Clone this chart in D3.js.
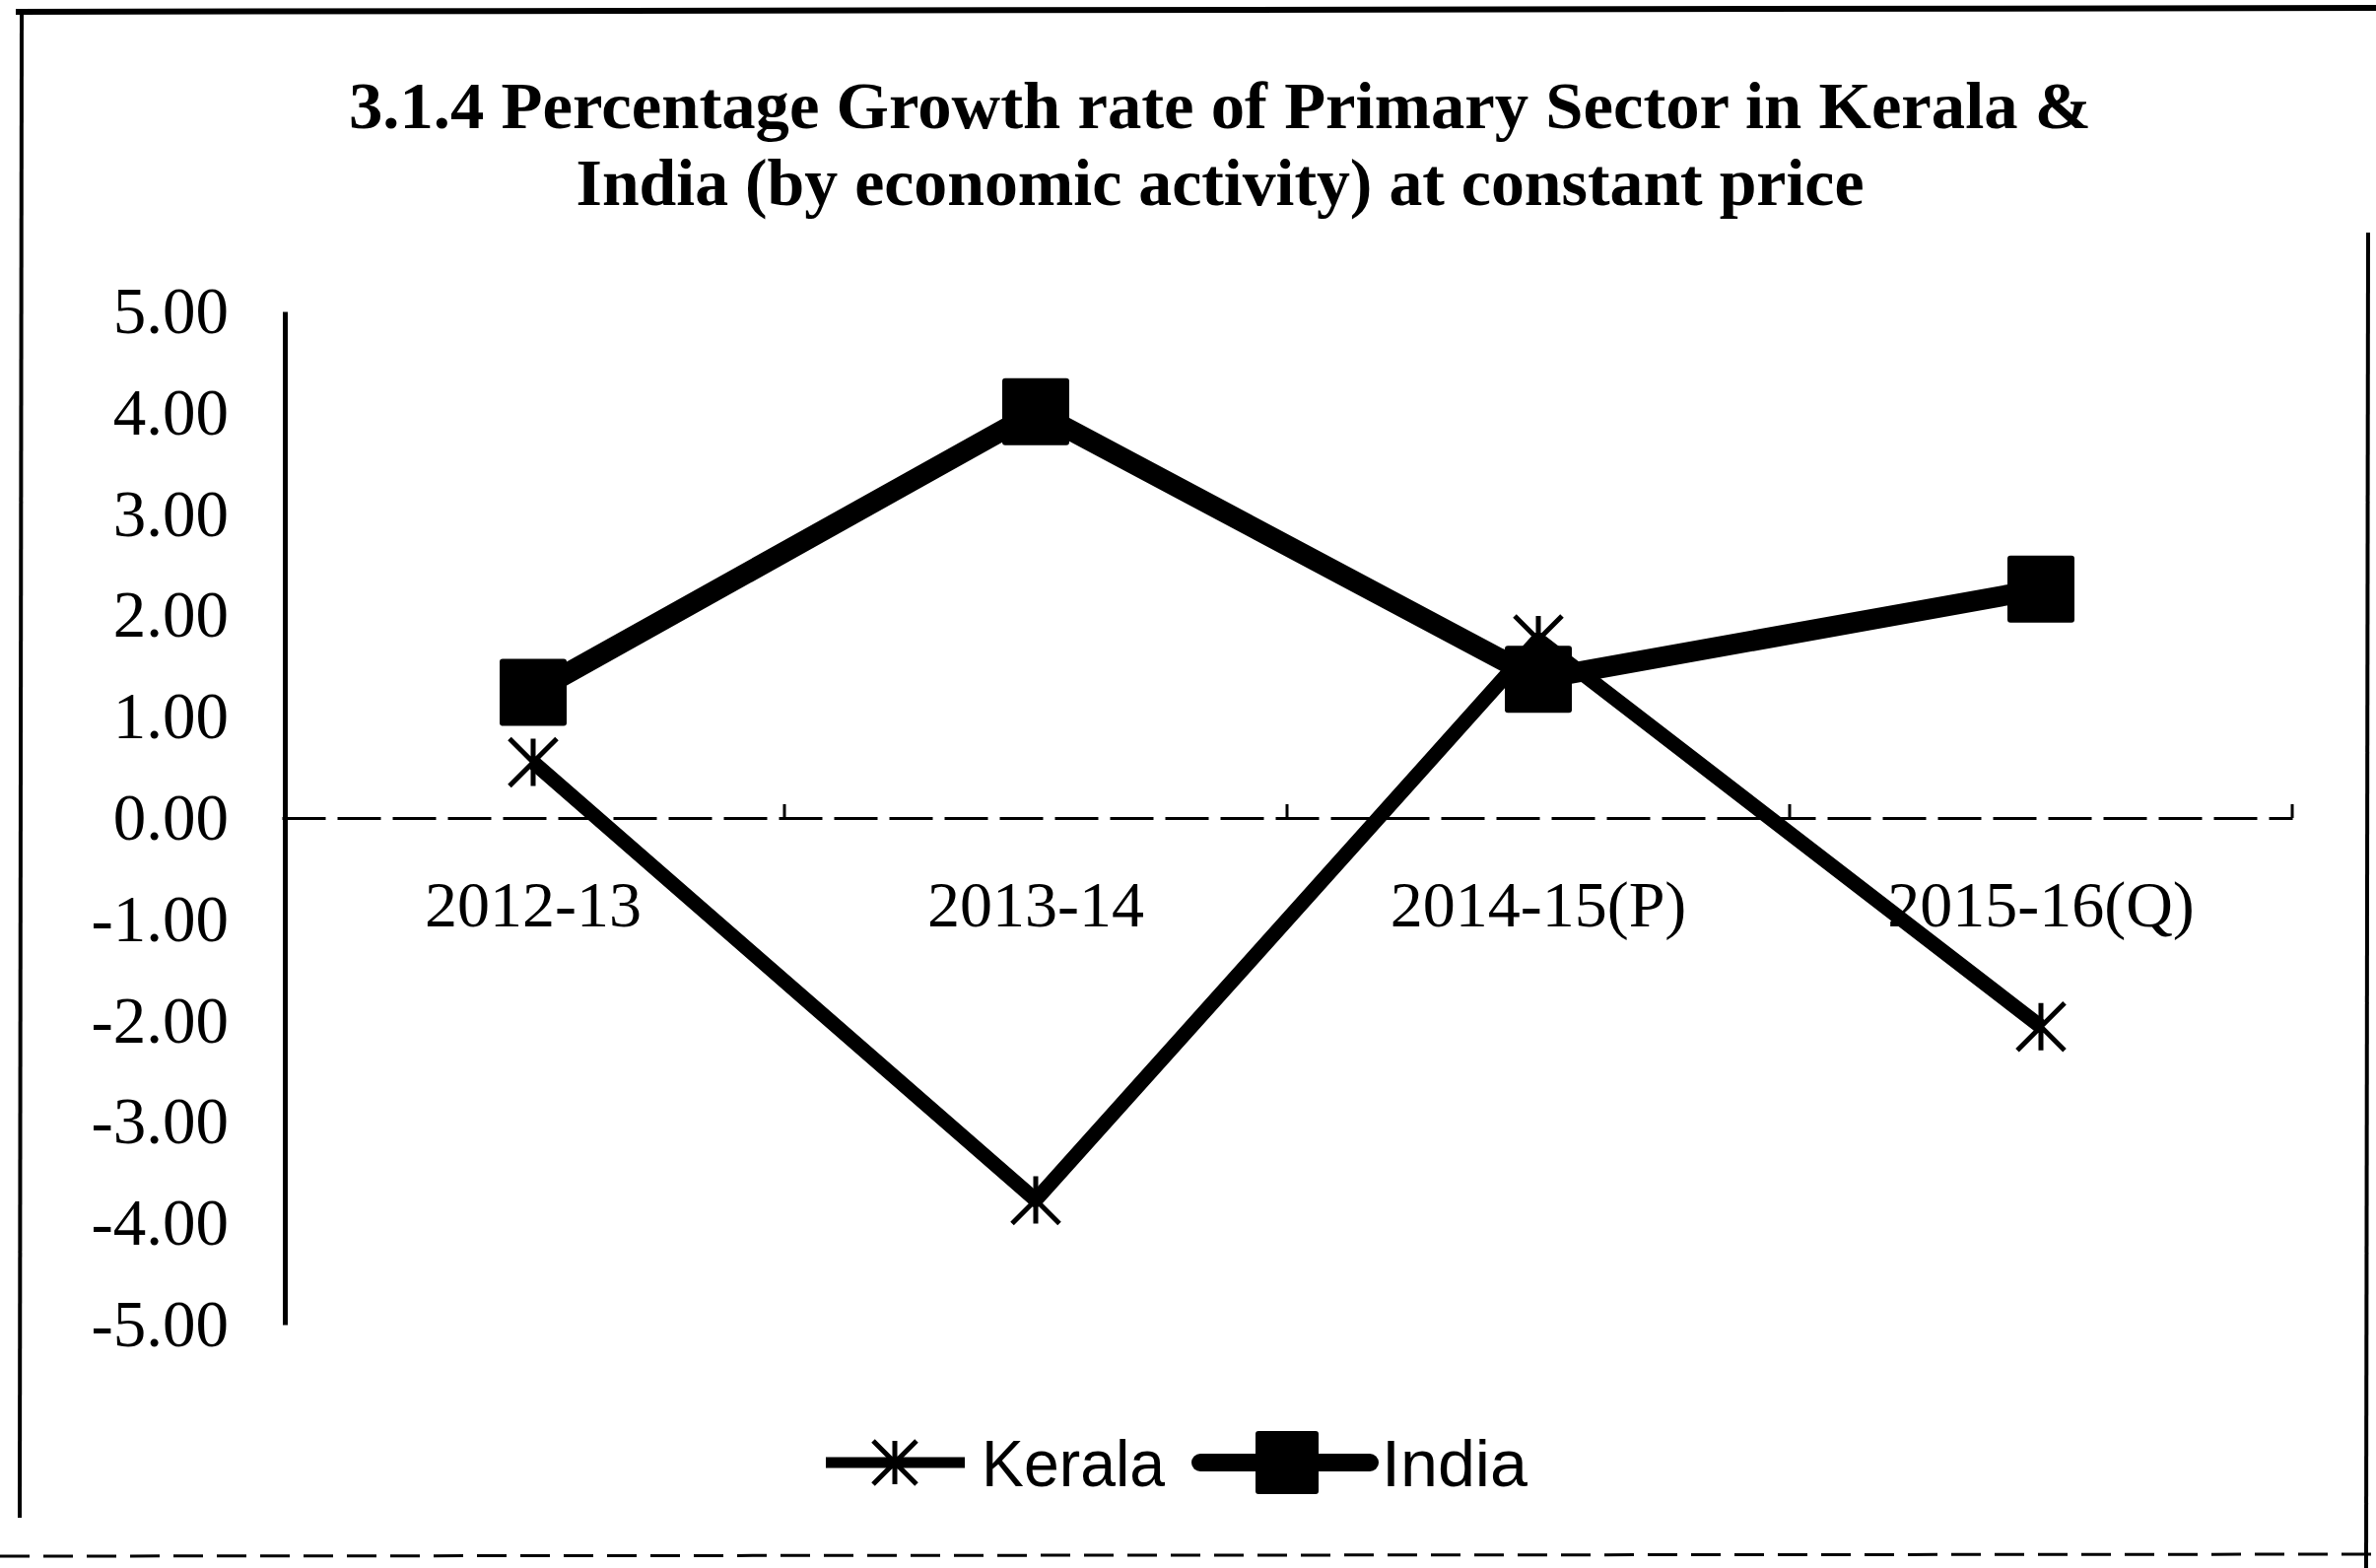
<!DOCTYPE html>
<html>
<head>
<meta charset="utf-8">
<script src="https://cdn.jsdelivr.net/npm/d3@7"></script>
<style>
  html, body { margin: 0; padding: 0; background: #fff; }
  svg { display: block; }
</style>
</head>
<body>
<svg id="chart"></svg>
<script>
// chart values
const categories = ["2012-13", "2013-14", "2014-15(P)", "2015-16(Q)"];
const keralaValues = [0.55, -3.77, 1.76, -2.06];
const indiaValues = [1.24, 4.01, 1.37, 2.26];
const yTicks = [5, 4, 3, 2, 1, 0, -1, -2, -3, -4, -5];
const titleLines = [
  "3.1.4 Percentage Growth rate of Primary Sector in Kerala &",
  "India (by economic activity) at constant price"
];
const seriesNames = ["Kerala", "India"];

document.addEventListener('DOMContentLoaded', function() {
  const W = 2411, H = 1591;
  const svg = d3.select("#chart").attr("width", W).attr("height", H);

  svg.append("rect").attr("width", W).attr("height", H).attr("fill", "#fff");

  // frame (scanned box edges)
  const frame = svg.append("g").attr("stroke", "#000").attr("fill", "none");
  frame.append("line").attr("x1", 16).attr("y1", 12).attr("x2", W).attr("y2", 8).attr("stroke-width", 6);
  frame.append("line").attr("x1", 22).attr("y1", 10).attr("x2", 20).attr("y2", 1540).attr("stroke-width", 4);
  frame.append("line").attr("x1", 2403).attr("y1", 236).attr("x2", 2401).attr("y2", H).attr("stroke-width", 4);
  frame.append("line").attr("x1", 0).attr("y1", 1579).attr("x2", W).attr("y2", 1577)
    .attr("stroke-width", 3).attr("stroke-dasharray", "30 14");

  // title
  const titleFont = "'Liberation Serif', 'Times New Roman', serif";
  svg.append("text").attr("x", 1238).attr("y", 130)
    .attr("text-anchor", "middle").attr("font-family", titleFont)
    .attr("font-weight", "bold").attr("font-size", 68)
    .attr("textLength", 1768).attr("lengthAdjust", "spacingAndGlyphs")
    .text(titleLines[0]);
  svg.append("text").attr("x", 1238).attr("y", 208)
    .attr("text-anchor", "middle").attr("font-family", titleFont)
    .attr("font-weight", "bold").attr("font-size", 68)
    .attr("textLength", 1307).attr("lengthAdjust", "spacingAndGlyphs")
    .text(titleLines[1]);

  // scales
  const x = d3.scaleBand().domain(categories).range([286, 2326]).padding(0);
  const y = d3.scaleLinear().domain([-5, 5]).range([1344, 316]);
  const cx = d => x(d) + x.bandwidth() / 2;

  const axisFont = "'Liberation Serif', 'Times New Roman', serif";

  // y axis
  const yAxis = svg.append("g")
    .attr("transform", "translate(289,0)")
    .call(d3.axisLeft(y).tickValues(yTicks).tickSize(0).tickPadding(57)
      .tickFormat(d => d.toFixed(2)));
  yAxis.select(".domain").attr("stroke", "#000").attr("stroke-width", 5);
  yAxis.selectAll("text").attr("font-family", axisFont).attr("font-size", 67).attr("fill", "#000");

  // zero line (x axis)
  const xAxis = svg.append("g")
    .attr("transform", "translate(0," + y(0) + ")")
    .call(d3.axisBottom(x).tickSize(0).tickPadding(63));
  xAxis.select(".domain").attr("stroke", "#000").attr("stroke-width", 3)
    .attr("stroke-dasharray", "44 12");
  xAxis.selectAll("text").attr("font-family", axisFont).attr("font-size", 66).attr("fill", "#000");

  // small ticks between categories
  svg.append("g").selectAll("line")
    .data(categories)
    .enter().append("line")
    .attr("x1", d => x(d) + x.bandwidth()).attr("x2", d => x(d) + x.bandwidth())
    .attr("y1", y(0)).attr("y2", y(0) - 14)
    .attr("stroke", "#000").attr("stroke-width", 3);

  const line = d3.line().x((d, i) => cx(categories[i])).y(d => y(d));
  const starPath = r => `M${-r},${-r}L${r},${r}M${-r},${r}L${r},${-r}M0,${-r}L0,${r}`;

  // Kerala
  svg.append("path").datum(keralaValues)
    .attr("d", line).attr("fill", "none").attr("stroke", "#000")
    .attr("stroke-width", 15).attr("stroke-linejoin", "round");
  svg.append("g").selectAll("path")
    .data(keralaValues)
    .enter().append("path")
    .attr("transform", (d, i) => "translate(" + cx(categories[i]) + "," + y(d) + ")")
    .attr("d", starPath(24)).attr("stroke", "#000").attr("stroke-width", 5).attr("fill", "none");

  // India
  svg.append("path").datum(indiaValues)
    .attr("d", line).attr("fill", "none").attr("stroke", "#000")
    .attr("stroke-width", 21).attr("stroke-linejoin", "round");
  const sq = 68;
  svg.append("g").selectAll("rect")
    .data(indiaValues)
    .enter().append("rect")
    .attr("x", (d, i) => cx(categories[i]) - sq / 2)
    .attr("y", d => y(d) - sq / 2)
    .attr("width", sq).attr("height", sq).attr("rx", 3).attr("fill", "#000");

  // legend
  const legendFont = "'Liberation Sans', Arial, sans-serif";
  const lg = svg.append("g");
  const ly = 1484;
  lg.append("line").attr("x1", 838).attr("x2", 979).attr("y1", ly).attr("y2", ly)
    .attr("stroke", "#000").attr("stroke-width", 11);
  lg.append("path").attr("transform", "translate(908," + ly + ")")
    .attr("d", starPath(22)).attr("stroke", "#000").attr("stroke-width", 5);
  lg.append("text").attr("x", 996).attr("y", 1508)
    .attr("font-family", legendFont).attr("font-size", 66)
    .attr("textLength", 186).attr("lengthAdjust", "spacingAndGlyphs")
    .text(seriesNames[0]);

  lg.append("line").attr("x1", 1218).attr("x2", 1390).attr("y1", ly).attr("y2", ly)
    .attr("stroke", "#000").attr("stroke-width", 18).attr("stroke-linecap", "round");
  lg.append("rect").attr("x", 1306 - 32).attr("y", ly - 32).attr("width", 64).attr("height", 64)
    .attr("rx", 3).attr("fill", "#000");
  lg.append("text").attr("x", 1402).attr("y", 1508)
    .attr("font-family", legendFont).attr("font-size", 66)
    .attr("textLength", 148).attr("lengthAdjust", "spacingAndGlyphs")
    .text(seriesNames[1]);
});
</script>
</body>
</html>
